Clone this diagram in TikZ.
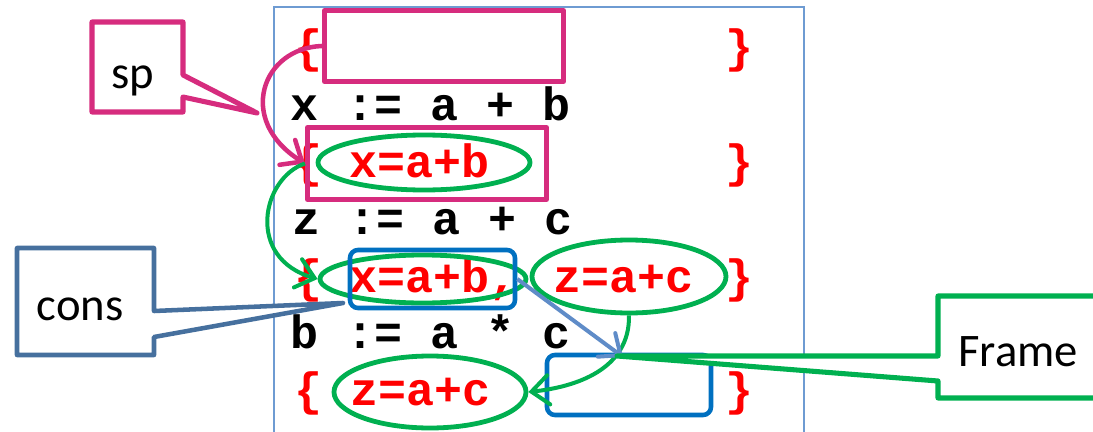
\documentclass[tikz,border=0pt]{standalone}
\usepackage{fontspec}
\setmainfont{Carlito}
\newfontfamily\codefont{Liberation Mono}
\usetikzlibrary{arrows.meta,shapes.geometric}
\definecolor{mag}{RGB}{214,44,126}
\definecolor{grn}{RGB}{0,176,80}
\definecolor{bbox}{RGB}{0,112,192}
\definecolor{consc}{RGB}{70,112,158}
\definecolor{arrblue}{RGB}{95,140,200}
\definecolor{framec}{RGB}{110,155,210}
\tikzset{
  code/.style={font=\codefont\bfseries\fontsize{35}{35}\selectfont, inner sep=0pt, anchor=base west},
  brace/.style={font=\codefont\bfseries\fontsize{35}{35}\selectfont, inner sep=0pt, anchor=base, text=red},
  label/.style={font=\fontsize{35}{35}\selectfont, inner sep=0pt, anchor=base},
  magbox/.style={draw=mag, line width=3.8pt, rectangle, inner sep=0pt, line join=round},
  bluebox/.style={draw=bbox, line width=3.4pt, rectangle, rounded corners=6pt, inner sep=0pt},
  grnell/.style={draw=grn, line width=3.6pt, ellipse, inner sep=0pt},
  tipbarb/.style={-{Straight Barb[length=13pt,width=22pt,line cap=round]}},
}
\begin{document}
\begin{tikzpicture}[x=0.75pt,y=-0.75pt]
\useasboundingbox (0,0) rectangle (1093,432);
\clip (0,0) rectangle (1093,432);
% thin frame
\draw[framec, line width=1.1pt] (274,7) rectangle (804,445);
% code lines
\node[brace] (b1l) at (308,62) {\{};
\node[brace] (b1r) at (739,62) {\}};
\node[code] (l2) at (290,120) {x := a + b};
\node[brace] (b3l) at (308,177) {\{};
\node[code, text=red] (t3) at (349,177) {x=a+b};
\node[brace] (b3r) at (739,177) {\}};
\node[code] (l4) at (292,234) {z := a + c};
\node[brace] (b5l) at (308,292) {\{};
\node[code, text=red] (t5a) at (349,292) {x=a+b,};
\node[code, text=red] (t5b) at (553,292) {z=a+c};
\node[brace] (b5r) at (739,292) {\}};
\node[code] (l6) at (290,348) {b := a * c};
\node[brace] (b7l) at (308,405) {\{};
\node[code, text=red] (t7) at (350,405) {z=a+c};
\node[brace] (b7r) at (739,405) {\}};
% boxes
\node[magbox, minimum width=179.25pt, minimum height=53.25pt] (M1) at (444,46) {};
\node[magbox, minimum width=179.25pt, minimum height=54pt] (M2) at (427,163.5) {};
\node[grnell, minimum width=159pt, minimum height=41.25pt] (E1) at (424,162.5) {};
\node[grnell, minimum width=154.5pt, minimum height=36pt] (E2) at (423,279) {};
\node[grnell, minimum width=145.5pt, minimum height=54.75pt] (E3) at (629,276.5) {};
\node[grnell, minimum width=144pt, minimum height=54pt] (E4) at (430,392) {};
\node[bluebox, minimum width=123.75pt, minimum height=43.5pt] (B1) at (432.5,279) {};
\node[bluebox, minimum width=123pt, minimum height=45pt] (B2) at (629,385) {};
% connectors
\draw[mag, line width=3.4pt, tipbarb] (M1.west) .. controls (262,48) and (236,120) .. (M2.west);
\draw[grn, line width=3pt, tipbarb] (M2.west) .. controls (262,178) and (245,258) .. (E2.west);
\draw[grn, line width=3pt, tipbarb] (E3.south) .. controls (630,370) and (575,387) .. (E4.east);
\coordinate (ftip) at (617,356);
\coordinate (arrend) at (623,357);
\draw[arrblue, line width=3pt, tipbarb] (B1.east) -- (arrend);
% callouts
\coordinate (sptip) at (257,113);
\draw[mag, line width=3.8pt, line join=round, fill=white] (sptip) -- (183,97) -- (183,112) -- (92,112) -- (92,22) -- (183,22) -- (183,75) -- cycle;
\node[label] (sp) at (133,88) {sp};
\coordinate (constip) at (343,303);
\draw[consc, line width=3.4pt, line join=round, fill=white] (constip) -- (154,337) -- (154,355) -- (17,355) -- (17,248) -- (154,248) -- (154,311) -- cycle;
\node[label] (cons) at (80,320) {cons};
\draw[grn, line width=3.8pt, line join=round, fill=white] (ftip) -- (938,356) -- (938,296) -- (1115,296) -- (1115,398) -- (938,398) -- (938,381) -- cycle;
\node[label, anchor=base west] (frame) at (958,366) {Frame};
\end{tikzpicture}
\end{document}
